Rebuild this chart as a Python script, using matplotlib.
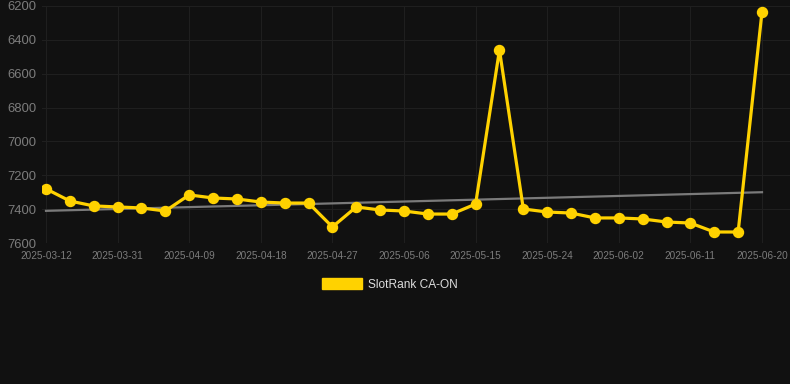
import matplotlib
matplotlib.use("Agg")
import matplotlib.pyplot as plt
from matplotlib.patches import Patch

# ---- data ----
dates = ["2025-03-12", "2025-03-25", "2025-03-28", "2025-03-31", "2025-04-03", "2025-04-06",
         "2025-04-09", "2025-04-12", "2025-04-15", "2025-04-18", "2025-04-21", "2025-04-24",
         "2025-04-27", "2025-04-30", "2025-05-03", "2025-05-06", "2025-05-09", "2025-05-12",
         "2025-05-15", "2025-05-18", "2025-05-21", "2025-05-24", "2025-05-27", "2025-05-30",
         "2025-06-02", "2025-06-05", "2025-06-08", "2025-06-11", "2025-06-14", "2025-06-17",
         "2025-06-20"]
rank = [7280, 7352, 7381, 7387, 7393, 7411, 7316, 7334, 7340, 7358, 7364, 7364,
        7505, 7387, 7405, 7411, 7429, 7429, 7370, 6460, 7399, 7417, 7423, 7452,
        7452, 7458, 7476, 7482, 7535, 7535, 6235]
trend_ends = [7410, 7300]
series_name = "SlotRank CA-ON"
y_ticks = [6200, 6400, 6600, 6800, 7000, 7200, 7400, 7600]

plt.rcParams["font.family"] = ["Liberation Sans", "DejaVu Sans"]

BG = "#111111"
GOLD = "#FFD200"

fig = plt.figure(figsize=(7.9, 3.84), dpi=100, facecolor=BG)
W, H = 790, 384
ax = fig.add_axes([42 / W, (H - 243) / H, (790 - 42) / W, (243 - 6) / H])
ax.set_facecolor(BG)

x = list(range(len(dates)))
ax.plot([x[0], x[-1]], trend_ends, color="#7a7a7a", lw=1.6, zorder=2)
ax.plot(x, rank, color=GOLD, lw=2.3, marker="o", markersize=7.2,
        markerfacecolor=GOLD, markeredgecolor=GOLD, zorder=3)

px = (762 - 46) / 30
ax.set_xlim(-(46 - 42) / px, 30 + (790 - 762) / px)
ax.set_ylim(7600, 6200)

tick_idx = list(range(0, len(dates), 3))
ax.set_xticks(tick_idx)
ax.set_xticklabels([dates[i] for i in tick_idx], fontsize=7.2, color="#7c7c7c")
ax.set_yticks(y_ticks)
ax.set_yticklabels([str(v) for v in y_ticks], fontsize=9.4, color="#7c7c7c")
ax.tick_params(axis="both", length=0)
ax.tick_params(axis="x", pad=6)
ax.tick_params(axis="y", pad=4)

ax.grid(True, color="#1f1f1f", lw=0.8)
ax.set_axisbelow(True)
for s in ax.spines.values():
    s.set_visible(False)

leg = fig.legend(handles=[Patch(facecolor=GOLD, edgecolor=GOLD)], labels=[series_name],
                 loc="center", bbox_to_anchor=(390 / W, 1 - 284.5 / H),
                 frameon=False, fontsize=8.6, handlelength=3.3, handleheight=0.95,
                 handletextpad=0.5, labelcolor="#dddddd")

fig.savefig("out.png", dpi=100, facecolor=BG)
